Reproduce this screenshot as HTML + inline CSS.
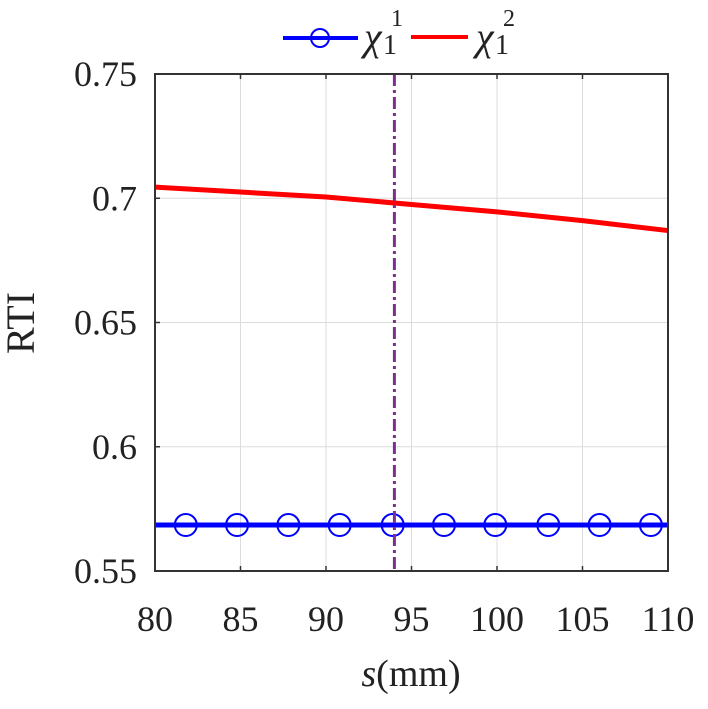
<!DOCTYPE html>
<html><head><meta charset="utf-8"><style>
html,body{margin:0;padding:0;background:#fff;}
svg text{font-family:"Liberation Serif",serif;fill:#222;}
</style></head><body>
<svg id="chart" width="708" height="704" viewBox="0 0 708 704" xmlns="http://www.w3.org/2000/svg">
<g id="grid"></g>
<g id="series"></g>
<g id="axes"></g>
<text x="25" y="323" font-size="40" text-anchor="middle" transform="rotate(-90 25 323)" dominant-baseline="middle">RTI</text>
<text x="411" y="686" font-size="38" text-anchor="middle"><tspan font-style="italic">s</tspan>(mm)</text>
<g>
 <g>
  <line x1="283" y1="38" x2="358" y2="38" stroke="#0000ff" stroke-width="4"/>
  <circle cx="320" cy="38" r="9" fill="none" stroke="#0000ff" stroke-width="2"/>
  <text x="364" y="50" font-size="40" font-style="italic">χ</text>
  <text x="383" y="54" font-size="28">1</text>
  <text x="391" y="26" font-size="24">1</text>
 </g>
 <g>
  <line x1="411" y1="37" x2="468" y2="37" stroke="#ff0000" stroke-width="4"/>
  <text x="476" y="50" font-size="40" font-style="italic">χ</text>
  <text x="495" y="54" font-size="28">1</text>
  <text x="503" y="26" font-size="24">2</text>
 </g>
</g>
</svg>
<script>
const xTicks=[80,85,90,95,100,105,110];
const yTicks=[0.55,0.6,0.65,0.7,0.75];
const yTickLabels=["0.55","0.6","0.65","0.7","0.75"];
const redX=[80,85,90,95,100,105,110];
const redY=[0.7045,0.7025,0.7005,0.6975,0.6945,0.691,0.687];
const blueX=[80,110];
const blueY=[0.5685,0.5685];
const markerX=[81.8,84.8,87.8,90.8,93.9,96.9,99.9,103,106,109];
const markerY=[0.5685,0.5685,0.5685,0.5685,0.5685,0.5685,0.5685,0.5685,0.5685,0.5685];
const vLineX=[94];

const L=155,R=668,T=74,B=571;
const sx=v=>L+(v-80)/(110-80)*(R-L);
const sy=v=>B-(v-0.55)/(0.75-0.55)*(B-T);
const NS="http://www.w3.org/2000/svg";
function mk(tag,attrs,parent){const e=document.createElementNS(NS,tag);for(const k in attrs)e.setAttribute(k,attrs[k]);parent.appendChild(e);return e;}
const grid=document.getElementById('grid'),series=document.getElementById('series'),axes=document.getElementById('axes');
xTicks.forEach(v=>{
 const g=mk('line',{x1:sx(v),x2:sx(v),y1:T,y2:B,stroke:'#dcdcdc','stroke-width':1},grid);
 
 
 const t=mk('line',{x1:sx(v),x2:sx(v),y1:B,y2:B-5,stroke:'#333','stroke-width':1.5},axes);
 
 
 const t2=mk('line',{x1:sx(v),x2:sx(v),y1:T,y2:T+5,stroke:'#333','stroke-width':1.5},axes);
 
 
 const lb=mk('text',{x:sx(v),y:631,'font-size':36,'text-anchor':'middle'},axes);
 lb.textContent=v;
 
 
});
yTicks.forEach((v,i)=>{
 const g=mk('line',{x1:L,x2:R,y1:sy(v),y2:sy(v),stroke:'#dcdcdc','stroke-width':1},grid);
 
 
 const t=mk('line',{x1:L,x2:L+5,y1:sy(v),y2:sy(v),stroke:'#333','stroke-width':1.5},axes);
 
 
 const lb=mk('text',{x:137,y:sy(v)+12,'font-size':36,'text-anchor':'end'},axes);
 lb.textContent=yTickLabels[i];
 
 
});
const box=mk('rect',{x:L,y:T,width:R-L,height:B-T,fill:'none',stroke:'#333','stroke-width':2},axes);



const red=mk('polyline',{points:redX.map((x,i)=>sx(x)+','+sy(redY[i])).join(' '),fill:'none',stroke:'#ff0000','stroke-width':5},series);


const blue=mk('polyline',{points:blueX.map((x,i)=>sx(x)+','+sy(blueY[i])).join(' '),fill:'none',stroke:'#0000ff','stroke-width':5},series);


markerX.forEach((x,i)=>{
 const c=mk('circle',{cx:sx(x),cy:sy(markerY[i]),r:11,fill:'none',stroke:'#0000ff','stroke-width':2},series);
 
 
});
vLineX.forEach(x=>{
 const v=mk('line',{x1:sx(x),x2:sx(x),y1:T,y2:B,stroke:'#7e2f8e','stroke-width':3,'stroke-dasharray':'12,4,3,4'},series);
 
 
});
</script>
</body></html>
